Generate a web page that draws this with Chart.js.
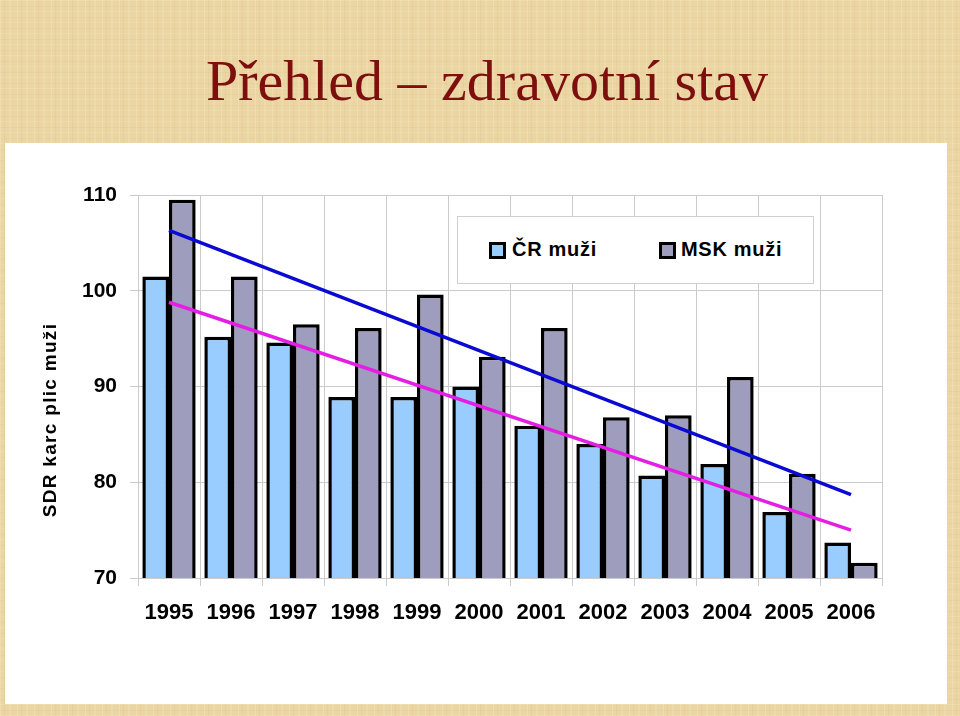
<!DOCTYPE html>
<html>
<head>
<meta charset="utf-8">
<script src="https://cdn.jsdelivr.net/npm/chart.js@4"></script>
<style>
  html, body { margin: 0; padding: 0; }
  body {
    width: 960px; height: 716px; position: relative; overflow: hidden;
    background-color: #ebd5a2;
    background-image:
      repeating-linear-gradient(90deg, rgba(255,250,230,0.22) 0 1px, transparent 1px 4px, rgba(175,135,75,0.07) 4px 5px, transparent 5px 9px, rgba(255,250,230,0.15) 9px 11px, transparent 11px 17px),
      repeating-linear-gradient(0deg, rgba(255,250,230,0.12) 0 1px, transparent 1px 5px, rgba(165,125,65,0.05) 5px 6px, transparent 6px 11px);
  }
  #title {
    position: absolute; left: 7px; top: 52px; width: 960px;
    text-align: center; font-family: "Liberation Serif", serif;
    font-size: 58px; line-height: 58px; color: #7d0f0f;
  }
  #panel {
    position: absolute; left: 5px; top: 143px; width: 942px; height: 561px;
    background: #fff;
  }
  #chart { position: absolute; left: 0; top: 0; }
  #ytitle {
    position: absolute; left: -60px; top: 408px; width: 220px; height: 24px;
    line-height: 24px; text-align: center; transform: rotate(-90deg);
    font-family: "Liberation Sans", Arial, sans-serif; font-weight: bold;
    font-size: 19px; letter-spacing: 1.3px; color: #000;
  }
  #legend {
    position: absolute; left: 457px; top: 216px; width: 357px; height: 68px;
    box-sizing: border-box; background: #fff; border: 1px solid #cfcfcf;
    font-family: "Liberation Sans", Arial, sans-serif; font-weight: bold;
    font-size: 20px; letter-spacing: 0.7px;
  }
  .sw { position: absolute; top: 25px; width: 17px; height: 17px; box-sizing: border-box; border: 3px solid #000; }
  .lt { position: absolute; top: 20px; line-height: 24px; }
</style>
</head>
<body>
<div id="title">Přehled – zdravotní stav</div>
<div id="panel"></div>
<canvas id="chart" width="960" height="716"></canvas>
<div id="ytitle">SDR karc plic muži</div>
<div id="legend">
  <div class="sw" style="left:31px; background:#99ccff"></div><div class="lt" style="left:54px">ČR muži</div>
  <div class="sw" style="left:201px; background:#9f9dbd"></div><div class="lt" style="left:223px">MSK muži</div>
</div>
<script>
const years = ["1995", "1996", "1997", "1998", "1999", "2000", "2001", "2002", "2003", "2004", "2005", "2006"];
const crMuzi = [101.5, 95.2, 94.6, 88.9, 88.9, 90.0, 85.9, 84.0, 80.7, 81.9, 76.9, 73.7];
const mskMuzi = [109.5, 101.5, 96.5, 96.1, 99.6, 93.1, 96.1, 86.8, 87.0, 91.0, 80.9, 71.6];
// trend lines: only the two end values, the line joins them
const mskTrend = [106.3, null, null, null, null, null, null, null, null, null, null, 78.7];
const crTrend = [98.8, null, null, null, null, null, null, null, null, null, null, 75.0];
const yTicks = [70, 80, 90, 100, 110];

const gridColor = "#cbcbcb";
const tickFont = { family: "'Liberation Sans', Arial, sans-serif", size: 21, weight: "bold" };

new Chart(document.getElementById("chart"), {
  type: "bar",
  data: {
    labels: years,
    datasets: [
      { type: "line", label: "MSK trend", data: mskTrend, borderColor: "#0a0ad2", borderWidth: 3.5, pointRadius: 0, spanGaps: true, order: 0 },
      { type: "line", label: "ČR trend", data: crTrend, borderColor: "#e41fe4", borderWidth: 3.5, pointRadius: 0, spanGaps: true, order: 0 },
      { label: "ČR muži", data: crMuzi, backgroundColor: "#99ccff", borderColor: "#000", borderWidth: 3.5, borderSkipped: false, order: 1 },
      { label: "MSK muži", data: mskMuzi, backgroundColor: "#9f9dbd", borderColor: "#000", borderWidth: 3.5, borderSkipped: false, order: 1 },
    ],
  },
  options: {
    responsive: false,
    animation: false,
    categoryPercentage: 0.86,
    barPercentage: 1.0,
    layout: { padding: { left: 0, right: 78, top: 195, bottom: 88 } },
    plugins: { legend: { display: false }, tooltip: { enabled: false } },
    scales: {
      x: {
        grid: { color: gridColor, tickLength: 8, offset: true },
        border: { color: gridColor },
        ticks: { color: "#000", font: { ...tickFont, size: 22 }, padding: 14, maxRotation: 0 },
        afterFit: (s) => { s.height = 50; },
      },
      y: {
        min: 70,
        max: 110,
        afterBuildTicks: (s) => { s.ticks = yTicks.map((v) => ({ value: v })); },
        grid: { color: gridColor, tickLength: 8 },
        border: { color: gridColor },
        ticks: { color: "#000", font: tickFont, padding: 13 },
        afterFit: (s) => { s.width = 138; },
      },
    },
  },
});
</script>
</body>
</html>
